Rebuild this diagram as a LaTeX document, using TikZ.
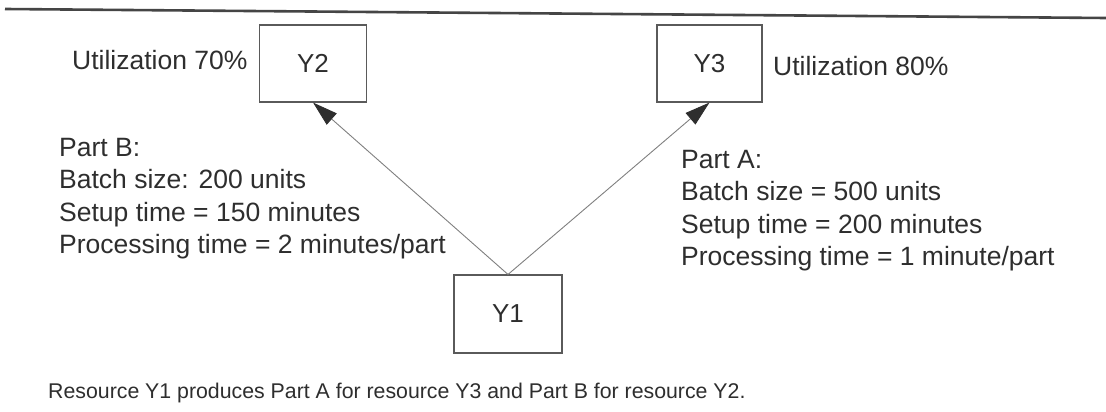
\documentclass[tikz,border=0pt]{standalone}
\usepackage{fontspec}
\setmainfont{Liberation Sans}
\usetikzlibrary{arrows.meta}
\definecolor{ink}{HTML}{2E2E2E}
\definecolor{boxgray}{HTML}{5A5A5A}
\definecolor{linegray}{HTML}{808080}
\definecolor{rulegray}{HTML}{454545}
\begin{document}
\begin{tikzpicture}[x=1pt,y=-1pt,
  resbox/.style={draw=boxgray, line width=1.1pt, minimum width=107pt, minimum height=77pt,
    inner sep=0pt, font=\fontsize{26}{32}\selectfont, text=ink},
  txt/.style={anchor=base west, inner sep=0pt, font=\fontsize{26.5}{32.5}\selectfont, text=ink},
  note/.style={anchor=base west, inner sep=0pt, font=\fontsize{21.3}{26}\selectfont, text=ink},
  flow/.style={draw=linegray, line width=0.9pt, -{Triangle[length=25pt,width=15pt,color=ink]}}
]
\useasboundingbox[fill=white] (0,0) rectangle (1106,412);

% rule across the top
\coordinate (ruleL) at (5,9);
\coordinate (ruleR) at (1106,18);
\draw[rulegray, line width=2.6pt] (ruleL) -- (ruleR);

% resources
\node[resbox] (Y2) at (313,63.5) {Y2};
\node[resbox, minimum width=105pt] (Y3) at (709.5,63.5) {Y3};
\node[resbox, minimum width=108pt, minimum height=78pt] (Y1) at (508,314) {Y1};

% material flow
\draw[flow] (Y1.north) -- (Y2.south);
\draw[flow] (Y1.north) -- (Y3.south);

% utilizations
\node[txt] (u2) at (72,70) {Utilization 70\%};
\node[txt] (u3) at (773,75) {Utilization 80\%};

% part data
\node[txt] (partB) at (59,156) {\begin{tabular}[t]{@{}l@{}}Part B:\\
Batch size: 200 units\\
Setup time = 150 minutes\\
Processing time = 2 minutes/part\end{tabular}};
\node[txt] (partA) at (681,168) {\begin{tabular}[t]{@{}l@{}}Part A:\\
Batch size = 500 units\\
Setup time = 200 minutes\\
Processing time = 1 minute/part\end{tabular}};

% caption
\node[note] (cap) at (48,398) {Resource Y1 produces Part A for resource Y3 and Part B for resource Y2.};
\end{tikzpicture}
\end{document}
